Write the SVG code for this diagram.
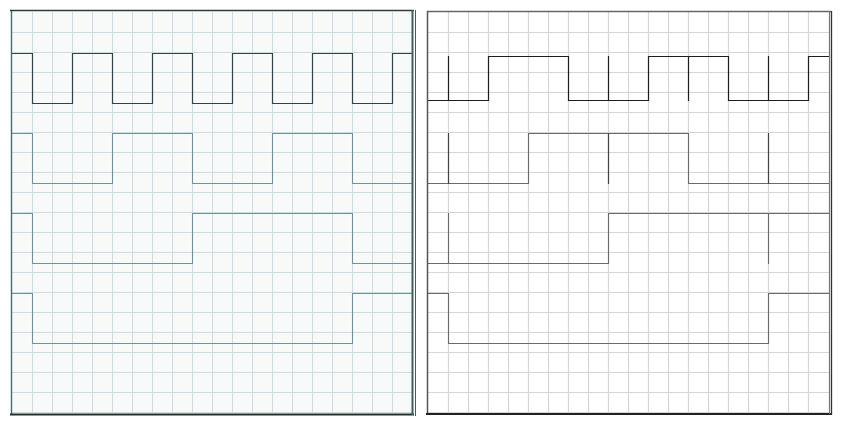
<svg xmlns="http://www.w3.org/2000/svg" width="843" height="426" viewBox="0 0 843 426">
<style>
.lg{stroke:#cfdcdf;stroke-width:1;fill:none}
.rg{stroke:#d6d6d6;stroke-width:1.2;fill:none}
.w{fill:none;stroke-linejoin:miter;stroke-linecap:square}
.l1{stroke:#2f4444;stroke-width:1.2}
.l2{stroke:#6f939b;stroke-width:1.1}
.r1{stroke:#1e1e1e;stroke-width:1.2}
.r2{stroke:#6a6a6a;stroke-width:1.1}
.rt{stroke:#444;stroke-width:1.2}
</style>
<rect width="843" height="426" fill="#ffffff"/>
<g id="left-panel">
<rect x="12" y="12" width="400" height="401" fill="#f8fafa"/>
<path class="lg" d="M32.5,12V413M52.5,12V413M72.5,12V413M92.5,12V413M112.5,12V413M132.5,12V413M152.5,12V413M172.5,12V413M192.5,12V413M212.5,12V413M232.5,12V413M252.5,12V413M272.5,12V413M292.5,12V413M312.5,12V413M332.5,12V413M352.5,12V413M372.5,12V413M392.5,12V413"/>
<path class="lg" d="M12,32.5H412M12,52.5H412M12,72.5H412M12,92.5H412M12,112.5H412M12,132.5H412M12,152.5H412M12,172.5H412M12,192.5H412M12,212.5H412M12,232.5H412M12,252.5H412M12,272.5H412M12,292.5H412M12,312.5H412M12,332.5H412M12,352.5H412M12,372.5H412M12,392.5H412M12,412.5H412"/>
<path class="w l1" d="M12,53.5H32.5V103.5H72.5V53.5H112.5V103.5H152.5V53.5H192.5V103.5H232.5V53.5H272.5V103.5H312.5V53.5H352.5V103.5H392.5V53.5H412"/>
<path class="w l2" d="M12,133.5H32.5V183.5H112.5V133.5H192.5V183.5H272.5V133.5H352.5V183.5H412"/>
<path class="w l2" d="M12,213.5H32.5V263.5H192.5V213.5H352.5V263.5H412"/>
<path class="w l2" d="M12,293.5H32.5V343.5H352.5V293.5H412"/>
<line x1="10" y1="10.5" x2="414" y2="10.5" stroke="#2b3b3b" stroke-width="1.5"/>
<line x1="11.5" y1="11" x2="11.5" y2="414" stroke="#4a6a6a" stroke-width="1.4"/>
<line x1="10" y1="414.5" x2="414" y2="414.5" stroke="#1f2f2f" stroke-width="2"/>
<line x1="412.5" y1="10" x2="412.5" y2="415" stroke="#3f5f60" stroke-width="2"/>
<line x1="415.5" y1="10" x2="415.5" y2="416" stroke="#4a5a5a" stroke-width="1"/>
</g>
<g id="right-panel">
<rect x="428" y="12" width="401" height="401" fill="#ffffff"/>
<path class="rg" d="M448.5,12V413M468.5,12V413M488.5,12V413M508.5,12V413M528.5,12V413M548.5,12V413M568.5,12V413M588.5,12V413M608.5,12V413M628.5,12V413M648.5,12V413M668.5,12V413M688.5,12V413M708.5,12V413M728.5,12V413M748.5,12V413M768.5,12V413M788.5,12V413M808.5,12V413"/>
<path class="rg" d="M428,32.5H829M428,52.5H829M428,72.5H829M428,92.5H829M428,112.5H829M428,132.5H829M428,152.5H829M428,172.5H829M428,192.5H829M428,212.5H829M428,232.5H829M428,252.5H829M428,272.5H829M428,292.5H829M428,312.5H829M428,332.5H829M428,352.5H829M428,372.5H829M428,392.5H829M428,412.5H829"/>
<path class="w r1" d="M428,100.5H488.5V56.5H568.5V100.5H648.5V56.5H728.5V100.5H808.5V56.5H829"/>
<path class="w r1" d="M448.5,56.5V100.5M608.5,56.5V100.5M688.5,56.5V100.5M768.5,56.5V100.5"/>
<path class="w r2" d="M428,183.5H528.5V133.5H688.5V183.5H829"/>
<path class="w rt" d="M448.5,133.5V183.5M608.5,133.5V183.5M768.5,133.5V183.5"/>
<path class="w r2" d="M428,263.5H608.5V213.5H829"/>
<path class="w r2" d="M448.5,213.5V263.5M768.5,213.5V263.5"/>
<path class="w r2" d="M428,293.5H448.5V343.5H768.5V293.5H829"/>
<line x1="427" y1="11.5" x2="831" y2="11.5" stroke="#666666" stroke-width="1.3"/>
<line x1="427.5" y1="11" x2="427.5" y2="414" stroke="#555555" stroke-width="1.5"/>
<line x1="426" y1="414" x2="832" y2="414" stroke="#222222" stroke-width="2"/>
<line x1="829.5" y1="11" x2="829.5" y2="414" stroke="#777777" stroke-width="1.2"/>
<line x1="831.5" y1="11" x2="831.5" y2="415" stroke="#333333" stroke-width="1.3"/>
</g>
</svg>
